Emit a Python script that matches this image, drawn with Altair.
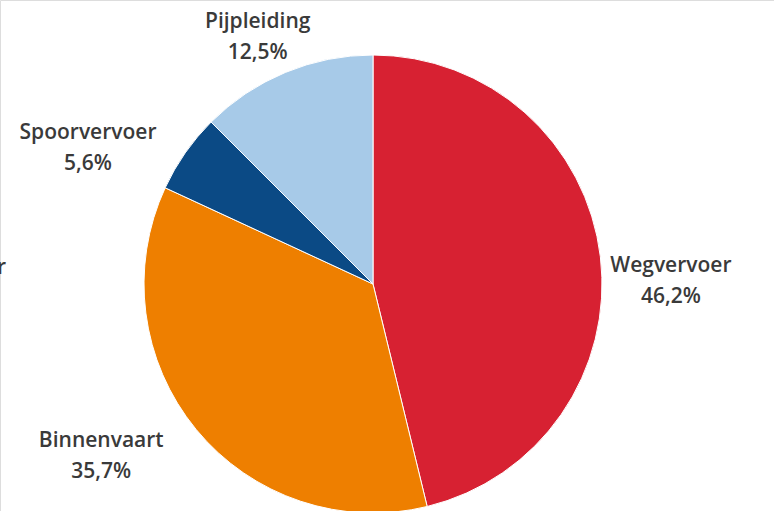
import altair as alt
import pandas as pd

categories = ["Wegvervoer", "Binnenvaart", "Spoorvervoer", "Pijpleiding"]
shares = [46.2, 35.7, 5.6, 12.5]
share_labels = ["46,2%", "35,7%", "5,6%", "12,5%"]
colors = ["#D72132", "#EE7F00", "#0B4A85", "#A7CAE8"]

df = pd.DataFrame({
    "cat": categories,
    "share": shares,
    "order": list(range(len(categories))),
    "label": [[c, s] for c, s in zip(categories, share_labels)],
})

CX, CY, R = 373, 284, 229
TAU = 6.283185307

theta = alt.Theta("share:Q", stack=True, scale=alt.Scale(range=[0, TAU]))
color = alt.Color("cat:N", scale=alt.Scale(domain=categories, range=colors), legend=None)

base = alt.Chart(df)

pie = base.mark_arc(radius=R, stroke="#ffffff", strokeWidth=1).encode(
    theta=theta,
    color=color,
    order=alt.Order("order:Q"),
    x=alt.value(CX),
    y=alt.value(CY),
)

# label base: mid-angle of each slice, computed on the full data
label_base = base.transform_window(
    cum="sum(share)", sort=[alt.SortField("order")]
).transform_joinaggregate(
    total="sum(share)"
).transform_calculate(
    mid="(datum.cum - datum.share / 2) / datum.total"
)

# per-label placement (radius, dx, dy)
placement = {
    "Wegvervoer": (298, 2, 17),
    "Binnenvaart": (300, -40, -34),
    "Spoorvervoer": (300, -39, 21),
    "Pijpleiding": (270, -12, -13),
}

layers = [pie]
for cat, (r, dx, dy) in placement.items():
    layers.append(
        label_base.transform_filter(alt.datum.cat == cat).mark_text(
            radius=r, dx=dx, dy=dy, align="center", baseline="middle",
            font="Open Sans", fontSize=21, fontWeight=600, color="#3a3a3a",
            lineHeight=31,
        ).encode(
            theta=alt.Theta("mid:Q", stack=None,
                            scale=alt.Scale(domain=[0, 1], range=[0, TAU])),
            text="label",
            x=alt.value(CX),
            y=alt.value(CY),
        )
    )

stray = base.transform_filter(alt.datum.cat == "Wegvervoer").mark_text(
    align="right", baseline="middle", font="Open Sans", fontSize=21,
    fontWeight=600, color="#3a3a3a",
).encode(text=alt.value("r"), x=alt.value(6), y=alt.value(268))
layers.append(stray)

chart = alt.layer(*layers).resolve_scale(theta="independent").properties(
    width=774, height=511, padding=0,
    autosize=alt.AutoSizeParams(type="none"),
).configure_view(stroke=None).configure(background="#ffffff")

chart.save("out.html", embed_options={"renderer": "svg", "actions": False})
